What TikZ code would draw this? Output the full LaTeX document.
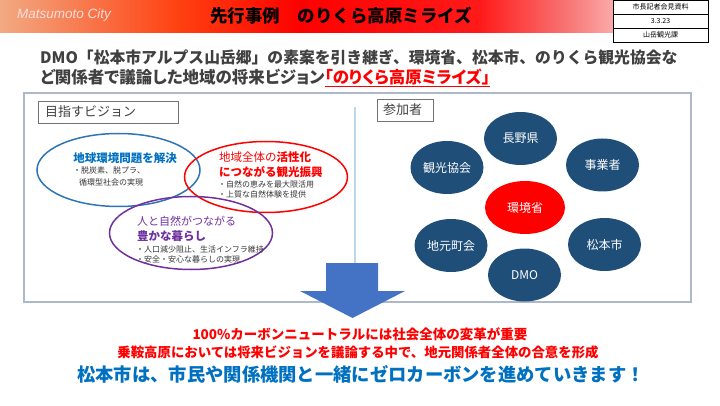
\documentclass[tikz,border=0pt]{standalone}
\usepackage{fontspec}
\setmainfont{Noto Sans CJK JP}
\newfontfamily\propfont[RawFeature=+palt]{Noto Sans CJK JP}
\newfontfamily\latinfont{Liberation Sans}
\usetikzlibrary{shapes.geometric}

\definecolor{bannerA}{HTML}{F2AA82}
\definecolor{bannerB}{HTML}{FF4010}
\definecolor{bannerC}{HTML}{FF0000}
\definecolor{bannerD}{HTML}{FF1A1A}
\definecolor{bannerE}{HTML}{F87878}
\definecolor{bannerF}{HTML}{FCC8C8}
\definecolor{leadgray}{HTML}{404040}
\definecolor{panelline}{HTML}{ADB9CA}
\definecolor{dividerline}{HTML}{BDD7EE}
\definecolor{globeblue}{HTML}{2E75B6}
\definecolor{textblue}{HTML}{0070C0}
\definecolor{lifepurple}{HTML}{7030A0}
\definecolor{memberblue}{HTML}{1F4E79}
\definecolor{arrowblue}{HTML}{4472C4}

\pgfdeclarehorizontalshading{banner}{100bp}{color(0bp)=(bannerA); color(25bp)=(bannerA);
  color(37.5bp)=(bannerB); color(45.8bp)=(bannerC); color(58.3bp)=(bannerD);
  color(64.6bp)=(bannerE); color(69.4bp)=(bannerF); color(74bp)=(white); color(100bp)=(white)}

\newcommand{\fs}[1]{\fontsize{#1}{#1}\selectfont}

\tikzset{
  vision/.style={ellipse, draw, line width=1.5pt, minimum width=163pt, minimum height=73pt, inner sep=0pt},
  member/.style={ellipse, fill=memberblue, text=white, minimum width=73pt, minimum height=53pt,
    inner sep=0pt, font=\fs{12}},
  bullet/.style={anchor=west, inner sep=0pt, text=black!80, font=\fs{8}},
  headline/.style={anchor=west, inner sep=0pt},
  tagbox/.style={draw=black!55, line width=0.8pt, anchor=north west, inner sep=0pt, text=leadgray},
  infobox/.style={draw, line width=0.6pt, minimum width=95pt, minimum height=14pt, inner sep=0pt, font=\fs{7}}
}

\begin{document}
\begin{tikzpicture}[x=1pt,y=-1pt]
  \useasboundingbox (0,0) rectangle (720,406);

  % title bar
  \shade[shading=banner] (0,0) rectangle (720,33);
  \node[headline, text=bannerF!60!white] (city) at (17,15) {\latinfont\itshape\fs{13.5}Matsumoto City};
  \node[inner sep=0pt, font=\bfseries\fs{17.5}] (title) at (341,16) {先行事例　のりくら高原ミライズ};

  \node[infobox, fill=white] (info1) at (660.5,7) {市長記者会見資料};
  \node[infobox, fill=white] (info2) at (660.5,21) {3.3.23};
  \node[infobox, fill=white] (info3) at (660.5,35) {山岳観光課};

  % lead text
  \node[headline, text=leadgray, font=\bfseries\fs{15.8}] (lead1) at (40,57)
    {DMO「松本市アルプス山岳郷」の素案を引き継ぎ、環境省、松本市、のりくら観光協会な};
  \node[headline, text=leadgray, font=\propfont\bfseries\fs{16.5}] (lead2) at (40,78)
    {ど関係者で議論した地域の将来ビジョン\textcolor{red}{\underline{「のりくら高原ミライズ」}}};

  % panel
  \draw[panelline, line width=1.5pt] (24,93) rectangle (691,302);
  \draw[dividerline, line width=1.2pt] (355,107) -- (355,292);

  \node[tagbox, minimum width=140pt, minimum height=22pt] (goal) at (38,101) {};
  \node[headline, text=leadgray, font=\fs{13}] (goaltext) at (45,112) {目指すビジョン};
  \node[tagbox, minimum width=56pt, minimum height=22pt] (who) at (377,99) {};
  \node[headline, text=leadgray, font=\fs{13}] (whotext) at (383,110) {参加者};

  % vision circles
  \node[vision, draw=globeblue] (globe) at (118.5,170) {};
  \node[vision, draw=red, minimum height=71pt] (region) at (266,177) {};
  \node[vision, draw=lifepurple] (life) at (191,233) {};

  \node[inner sep=0pt, text=textblue, font=\bfseries\fs{11.5}] (globet) at (125,158) {地球環境問題を解決};
  \node[bullet] (globe1) at (73,170) {・脱炭素、脱プラ、};
  \node[bullet] (globe2) at (79,182) {循環型社会の実現};

  \node[headline, text=red, font=\fs{11.5}] (regiont) at (219,157) {地域全体の\textbf{活性化}};
  \node[headline, text=red, font=\bfseries\fs{11.5}] (regiont2) at (219,172) {につながる観光振興};
  \node[bullet] (region1) at (218,184) {・自然の恵みを最大限活用};
  \node[bullet] (region2) at (218,194) {・上質な自然体験を提供};

  \node[headline, text=lifepurple, font=\fs{11}] (lifet) at (137,221) {人と自然がつながる};
  \node[headline, text=lifepurple, font=\bfseries\fs{11.5}] (lifet2) at (137,236) {豊かな暮らし};
  \node[bullet] (life1) at (136,249) {・人口減少阻止、生活インフラ維持};
  \node[bullet] (life2) at (136,259) {・安全・安心な暮らしの実現};

  % participants
  \node[member] (nagano) at (520.5,138.5) {長野県};
  \node[member] (firms) at (602.5,165) {事業者};
  \node[member] (tourism) at (447,167.5) {観光協会};
  \node[member, fill=red, minimum width=80pt] (env) at (525,207.5) {環境省};
  \node[member] (locals) at (451,245.5) {地元町会};
  \node[member] (city2) at (604.5,244.5) {松本市};
  \node[member] (dmo) at (524.5,275) {DMO};

  % arrow
  \fill[arrowblue] (326,263) -- (378,263) -- (378,291) -- (405,291) -- (352.5,318)
    -- (300,291) -- (326,291) -- cycle;

  % conclusion
  \node[inner sep=0pt, text=red, font=\bfseries\fs{13.5}] (point1) at (360,334)
    {100\%カーボンニュートラルには社会全体の変革が重要};
  \node[inner sep=0pt, text=red, font=\bfseries\fs{13.4}] (point2) at (358,352)
    {乗鞍高原においては将来ビジョンを議論する中で、地元関係者全体の合意を形成};
  \node[inner sep=0pt, text=textblue, font=\bfseries\fs{18.3}] (point3) at (361,374)
    {松本市は、市民や関係機関と一緒にゼロカーボンを進めていきます！};
\end{tikzpicture}
\end{document}
